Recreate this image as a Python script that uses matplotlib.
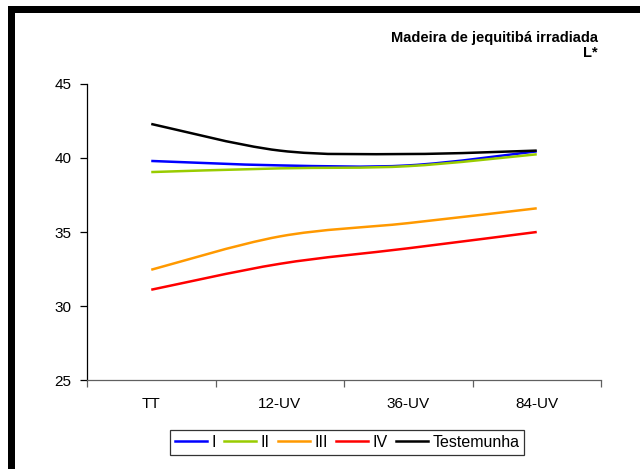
import matplotlib
matplotlib.use("Agg")
import matplotlib.pyplot as plt
from matplotlib.path import Path
from matplotlib.patches import PathPatch, Rectangle
from matplotlib.lines import Line2D
import numpy as np

plt.rcParams['font.family'] = ['Liberation Sans', 'DejaVu Sans']

categories = ["TT", "12-UV", "36-UV", "84-UV"]
series_names = ["I", "II", "III", "IV", "Testemunha"]
s_I = [39.8, 39.5, 39.5, 40.45]
s_II = [39.05, 39.3, 39.45, 40.25]
s_III = [32.45, 34.7, 35.6, 36.6]
s_IV = [31.1, 32.85, 33.9, 35.0]
s_test = [42.3, 40.5, 40.27, 40.5]
colors = ["#0000FF", "#99CC00", "#FF9900", "#FF0000", "#000000"]
yticks = [25, 30, 35, 40, 45]
title1 = "Madeira de jequitibá irradiada"
title2 = "L*"

fig = plt.figure(figsize=(6.4, 4.69), dpi=100)
ax = fig.add_axes([87/640, 1 - 380/469, 514/640, 296/469])


def smooth_path(xs, ys):
    pts = np.column_stack([xs, ys]).astype(float)
    n = len(pts)
    verts = [pts[0]]
    codes = [Path.MOVETO]
    for i in range(n - 1):
        p_prev = pts[i - 1] if i > 0 else pts[i]
        p0 = pts[i]
        p1 = pts[i + 1]
        p_next = pts[i + 2] if i + 2 < n else pts[i + 1]
        c1 = p0 + (p1 - p_prev) / 6.0
        c2 = p1 - (p_next - p0) / 6.0
        verts += [c1, c2, p1]
        codes += [Path.CURVE4] * 3
    return Path(verts, codes)


x = np.arange(len(categories))
all_series = [s_I, s_II, s_III, s_IV, s_test]
handles = []
for name, vals, col in zip(series_names, all_series, colors):
    patch = PathPatch(smooth_path(x, vals), fill=False, edgecolor=col,
                      lw=1.8, capstyle='butt', joinstyle='round')
    ax.add_patch(patch)
    handles.append(Line2D([], [], color=col, lw=1.8, label=name))

ax.set_xlim(-0.5, len(categories) - 0.5)
ax.set_ylim(25, 45)
ax.set_yticks(yticks)
ax.set_yticklabels([str(v) for v in yticks])
ax.set_xticks(x)
ax.set_xticklabels(categories)
ax.set_xticks(np.arange(len(categories) + 1) - 0.5, minor=True)
ax.tick_params(axis='x', which='major', length=0, pad=12, labelsize=11)
ax.tick_params(axis='x', which='minor', length=5, width=0.9, color='#606060', direction='out')
ax.tick_params(axis='y', length=5, width=0.9, pad=6, labelsize=11, direction='out')
for s in ['top', 'right']:
    ax.spines[s].set_visible(False)
ax.spines['left'].set_color('#000000')
ax.spines['left'].set_linewidth(0.9)
ax.spines['bottom'].set_color('#606060')
ax.spines['bottom'].set_linewidth(0.9)

fig.text(598/640, 1 - 38/469, title1, ha='right', va='center', fontsize=10.5,
         fontweight='bold')
fig.text(598/640, 1 - 53/469, title2, ha='right', va='center', fontsize=10.5,
         fontweight='bold')

leg = fig.legend(handles=handles, loc='center', bbox_to_anchor=(347/640, 1 - 442.5/469),
                 ncol=5, frameon=True, fontsize=11.5, handlelength=2.0,
                 handletextpad=0.3, columnspacing=0.5, borderpad=0.3,
                 borderaxespad=0, fancybox=False, edgecolor='black')
leg.get_frame().set_linewidth(0.9)

# outer chart border
fig.add_artist(Rectangle((11/640, -1.5/469), 1.2, (1 - 9.5/469) + 1.5/469,
                         transform=fig.transFigure, fill=False, edgecolor='black',
                         lw=7 * 72 / 100, clip_on=False))

fig.savefig("out.png", dpi=100)
